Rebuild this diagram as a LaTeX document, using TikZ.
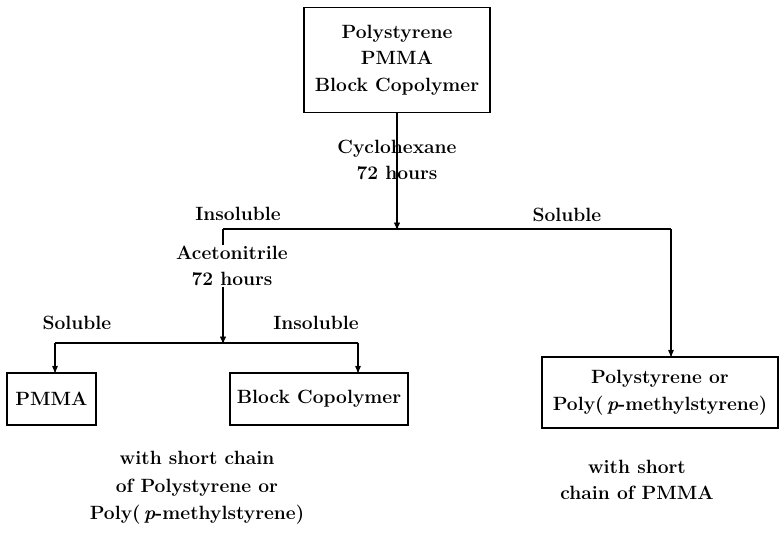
\documentclass[tikz,border=0pt]{standalone}
\usepackage{tikz}
\usetikzlibrary{arrows,shapes}

\begin{document}
\begin{tikzpicture}[x=1pt,y=-1pt,
font=\fontsize{19.2}{26.5}\selectfont\bfseries,
data/.style={
rectangle,
draw,
line width=1.3pt,
align=center,
inner sep=0pt
},
to/.style={->,>=stealth',line width=1.3pt},
link/.style={line width=1.3pt},
note/.style={align=center}]

\useasboundingbox (0,0) rectangle (780,537);

\node (copoly) [data,minimum width=186pt,minimum height=105pt] at (397,60) {Polystyrene\\PMMA\\Block Copolymer};
\node (pmma) [data,minimum width=89pt,minimum height=52pt] at (51.5,399) {PMMA};
\node (block) [data,minimum width=178pt,minimum height=52pt] at (319,399) {Block Copolymer};
\node (homo) [data,minimum width=236pt,minimum height=71pt] at (660,392.5) {Polystyrene or\\Poly(\,\textit{p}-methylstyrene)};

\coordinate (insol) at (223,229);
\coordinate (sol) at (671,229);
\coordinate (left2) at (55,343);
\coordinate (right2) at (358,343);

\draw[link] (insol) -- (sol);
\draw[to] (copoly) -- (copoly |- insol);
\draw[to] (sol) -- (sol |- homo.north);
\draw[to] (insol) -- (insol |- left2);
\draw[link] (left2) -- (right2);
\draw[to] (left2) -- (left2 |- pmma.north);
\draw[to] (right2) -- (right2 |- block.north);

% solvent steps
\node (cyclo) [note] at (397,160) {Cyclohexane\\72 hours};
\node (aceto) [note,fill=white,inner sep=1pt] at (232,266) {Acetonitrile\\72 hours};

% fractions
\node (ins1) at (238,214) {Insoluble};
\node (sol1) at (567,215) {Soluble};
\node (sol2) at (77,323) {Soluble};
\node (ins2) at (316,323) {Insoluble};

\node (shortps) [note] at (197,488) {with short chain\\[1pt]of Polystyrene or\\[1pt]Poly(\,\textit{p}-methylstyrene)};
\node (shortpmma) [note] at (637,480) {with short\\chain of PMMA};
\end{tikzpicture}
\end{document}
